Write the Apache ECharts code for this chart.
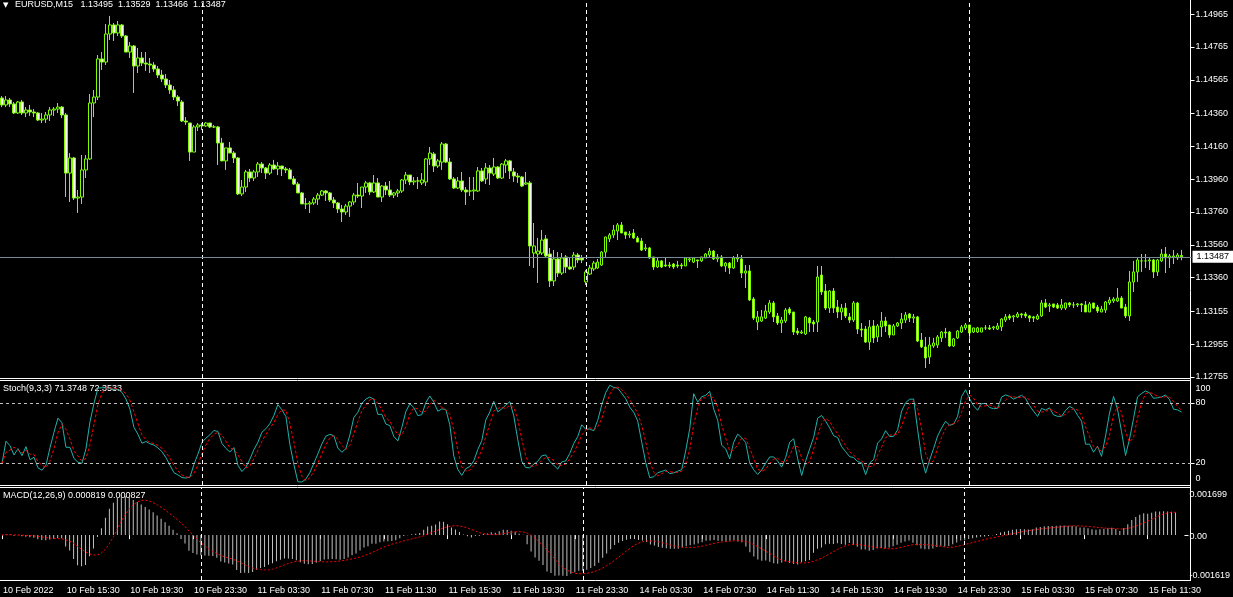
<!DOCTYPE html>
<html><head><meta charset="utf-8">
<script src="https://cdn.jsdelivr.net/npm/echarts@6/dist/echarts.min.js"></script>
<style>html,body{margin:0;padding:0;background:#000;overflow:hidden}#c{width:1233px;height:597px}</style>
</head><body><div id="c"></div>
<script>
// ---- DATA (EURUSD M15) ----
const opens = [1.14454,1.14412,1.14442,1.14418,1.14363,1.14430,1.14363,1.14381,1.14369,1.14363,
1.14320,1.14326,1.14351,1.14381,1.14387,1.14399,1.14351,1.13997,1.14089,1.13845,
1.13851,1.14016,1.14083,1.14424,1.14460,1.14692,1.14673,1.14844,1.14899,1.14850,
1.14899,1.14832,1.14734,1.14771,1.14649,1.14698,1.14667,1.14661,1.14655,1.14631,
1.14594,1.14570,1.14533,1.14503,1.14460,1.14430,1.14314,1.14302,1.14125,1.14278,
1.14290,1.14284,1.14302,1.14278,1.14278,1.14180,1.14071,1.14150,1.14119,1.14089,
1.13870,1.13912,1.14004,1.13967,1.14004,1.14052,1.14028,1.13997,1.14046,1.14022,
1.14040,1.14022,1.14016,1.13961,1.13930,1.13876,1.13809,1.13809,1.13815,1.13839,
1.13863,1.13888,1.13876,1.13833,1.13815,1.13778,1.13760,1.13796,1.13821,1.13863,
1.13857,1.13912,1.13937,1.13882,1.13937,1.13851,1.13918,1.13894,1.13863,1.13876,
1.13888,1.13955,1.13985,1.13943,1.13949,1.13937,1.13943,1.14083,1.14113,1.14040,
1.14064,1.14174,1.14064,1.13961,1.13906,1.13949,1.13894,1.13888,1.13888,1.13888,
1.14010,1.13961,1.14028,1.13991,1.14034,1.13967,1.14046,1.14071,1.14004,1.13979,
1.13973,1.13930,1.13937,1.13510,1.13504,1.13510,1.13596,1.13504,1.13340,1.13474,
1.13388,1.13486,1.13425,1.13425,1.13498,1.13480,1.13334,1.13382,1.13413,1.13419,
1.13437,1.13516,1.13596,1.13620,1.13644,1.13681,1.13638,1.13620,1.13632,1.13602,
1.13583,1.13535,1.13541,1.13486,1.13425,1.13462,1.13437,1.13437,1.13443,1.13437,
1.13437,1.13431,1.13468,1.13455,1.13468,1.13462,1.13480,1.13498,1.13522,1.13474,
1.13486,1.13431,1.13449,1.13419,1.13474,1.13474,1.13388,1.13401,1.13230,1.13090,
1.13096,1.13114,1.13151,1.13206,1.13127,1.13084,1.13096,1.13169,1.13151,1.13035,
1.13023,1.13017,1.13114,1.13090,1.13090,1.13376,1.13279,1.13175,1.13279,1.13181,
1.13151,1.13175,1.13121,1.13102,1.13206,1.13047,1.13047,1.12968,1.13066,1.12999,
1.13060,1.13096,1.13072,1.13011,1.13066,1.13084,1.13102,1.13139,1.13114,1.13121,
1.12980,1.12938,1.12877,1.12944,1.12950,1.12993,1.13029,1.13029,1.12944,1.12993,
1.13029,1.13054,1.13072,1.13029,1.13029,1.13029,1.13054,1.13054,1.13054,1.13047,
1.13060,1.13102,1.13127,1.13121,1.13121,1.13139,1.13139,1.13127,1.13121,1.13108,
1.13127,1.13206,1.13188,1.13200,1.13194,1.13175,1.13175,1.13206,1.13194,1.13194,
1.13200,1.13194,1.13151,1.13206,1.13181,1.13151,1.13163,1.13206,1.13218,1.13218,
1.13236,1.13181,1.13127,1.13334,1.13395,1.13462,1.13462,1.13462,1.13468,1.13395,
1.13462,1.13504,1.13480,1.13486,1.13480,1.13495];
const highs = [1.14466,1.14466,1.14454,1.14430,1.14436,1.14442,1.14399,1.14412,1.14387,1.14369,
1.14363,1.14369,1.14399,1.14399,1.14424,1.14405,1.14363,1.14119,1.14095,1.13894,
1.14107,1.14107,1.14479,1.14503,1.14716,1.14734,1.14905,1.14954,1.14911,1.14923,
1.14905,1.14838,1.14795,1.14777,1.14759,1.14734,1.14734,1.14698,1.14673,1.14649,
1.14625,1.14600,1.14564,1.14527,1.14472,1.14442,1.14338,1.14302,1.14290,1.14302,
1.14302,1.14308,1.14302,1.14290,1.14284,1.14211,1.14150,1.14186,1.14131,1.14095,
1.13955,1.14016,1.14022,1.14016,1.14064,1.14064,1.14034,1.14058,1.14077,1.14064,
1.14040,1.14034,1.14028,1.13979,1.13943,1.13882,1.13845,1.13827,1.13851,1.13876,
1.13894,1.13894,1.13882,1.13851,1.13821,1.13803,1.13809,1.13827,1.13876,1.13937,
1.13912,1.13949,1.13943,1.13985,1.13967,1.13924,1.13943,1.13949,1.13882,1.13900,
1.13961,1.14004,1.13985,1.13973,1.13973,1.13997,1.14089,1.14156,1.14125,1.14083,
1.14186,1.14180,1.14089,1.13973,1.13973,1.14004,1.13912,1.13973,1.13973,1.14034,
1.14028,1.14058,1.14046,1.14089,1.14040,1.14058,1.14083,1.14077,1.14028,1.13997,
1.13979,1.14004,1.13949,1.13693,1.13602,1.13650,1.13620,1.13541,1.13528,1.13516,
1.13510,1.13498,1.13480,1.13516,1.13510,1.13498,1.13407,1.13437,1.13462,1.13474,
1.13522,1.13608,1.13632,1.13681,1.13693,1.13699,1.13638,1.13644,1.13656,1.13614,
1.13602,1.13565,1.13547,1.13486,1.13480,1.13468,1.13486,1.13455,1.13449,1.13462,
1.13449,1.13480,1.13486,1.13480,1.13468,1.13486,1.13510,1.13541,1.13528,1.13504,
1.13498,1.13455,1.13455,1.13492,1.13504,1.13498,1.13437,1.13437,1.13242,1.13157,
1.13163,1.13194,1.13224,1.13218,1.13145,1.13121,1.13175,1.13181,1.13151,1.13054,
1.13041,1.13127,1.13121,1.13102,1.13431,1.13431,1.13322,1.13285,1.13297,1.13224,
1.13200,1.13206,1.13145,1.13218,1.13212,1.13084,1.13066,1.13102,1.13102,1.13078,
1.13151,1.13121,1.13072,1.13078,1.13090,1.13145,1.13151,1.13145,1.13139,1.13127,
1.13023,1.12999,1.12999,1.12993,1.13011,1.13035,1.13054,1.13035,1.12993,1.13041,
1.13072,1.13084,1.13072,1.13054,1.13060,1.13054,1.13072,1.13072,1.13066,1.13084,
1.13114,1.13139,1.13139,1.13133,1.13151,1.13145,1.13151,1.13133,1.13127,1.13139,
1.13224,1.13230,1.13206,1.13200,1.13206,1.13230,1.13206,1.13212,1.13212,1.13206,
1.13206,1.13218,1.13212,1.13206,1.13194,1.13188,1.13218,1.13242,1.13242,1.13297,
1.13248,1.13200,1.13401,1.13462,1.13480,1.13504,1.13504,1.13486,1.13474,1.13474,
1.13535,1.13547,1.13504,1.13528,1.13510,1.13529];
const lows = [1.14399,1.14399,1.14399,1.14357,1.14357,1.14351,1.14338,1.14345,1.14338,1.14314,
1.14302,1.14302,1.14314,1.14345,1.14363,1.14332,1.13851,1.13821,1.13833,1.13754,
1.13809,1.13967,1.14077,1.14338,1.14442,1.14625,1.14655,1.14807,1.14801,1.14832,
1.14820,1.14734,1.14698,1.14485,1.14606,1.14649,1.14619,1.14606,1.14613,1.14576,
1.14552,1.14515,1.14479,1.14442,1.14405,1.14308,1.14290,1.14071,1.14125,1.14253,
1.14259,1.14278,1.14271,1.14271,1.14046,1.14071,1.14016,1.14119,1.14058,1.13863,
1.13857,1.13882,1.13943,1.13949,1.13973,1.13997,1.13961,1.13985,1.14016,1.13985,
1.13979,1.13997,1.13961,1.13924,1.13876,1.13809,1.13778,1.13754,1.13803,1.13803,
1.13857,1.13827,1.13821,1.13784,1.13754,1.13699,1.13742,1.13730,1.13803,1.13845,
1.13784,1.13876,1.13863,1.13876,1.13851,1.13821,1.13863,1.13851,1.13845,1.13851,
1.13876,1.13930,1.13924,1.13924,1.13900,1.13924,1.13918,1.14046,1.14004,1.14028,
1.14016,1.14058,1.13955,1.13900,1.13900,1.13882,1.13803,1.13857,1.13833,1.13882,
1.13943,1.13930,1.13924,1.13979,1.13961,1.13961,1.13997,1.13961,1.13943,1.13937,
1.13912,1.13924,1.13431,1.13419,1.13328,1.13498,1.13486,1.13303,1.13309,1.13364,
1.13376,1.13388,1.13407,1.13407,1.13449,1.13449,1.13315,1.13376,1.13401,1.13413,
1.13431,1.13486,1.13577,1.13602,1.13589,1.13632,1.13596,1.13602,1.13596,1.13577,
1.13522,1.13522,1.13474,1.13407,1.13419,1.13419,1.13425,1.13419,1.13413,1.13419,
1.13413,1.13431,1.13455,1.13449,1.13419,1.13455,1.13480,1.13486,1.13468,1.13455,
1.13425,1.13395,1.13382,1.13413,1.13455,1.13358,1.13297,1.13218,1.13102,1.13041,
1.13090,1.13108,1.13139,1.13090,1.13072,1.13023,1.13084,1.13133,1.13011,1.13011,
1.13017,1.13011,1.13029,1.13029,1.13029,1.13255,1.13163,1.13145,1.13145,1.13114,
1.13102,1.13114,1.13084,1.13090,1.13017,1.12999,1.12962,1.12920,1.12962,1.12968,
1.12999,1.13029,1.12993,1.13011,1.13060,1.13047,1.13084,1.13090,1.13084,1.12968,
1.12932,1.12810,1.12834,1.12932,1.12932,1.12968,1.12993,1.12938,1.12938,1.12987,
1.13023,1.13041,1.12980,1.13023,1.13023,1.13029,1.13041,1.13041,1.13041,1.13041,
1.13035,1.13090,1.13102,1.13090,1.13114,1.13114,1.13114,1.13090,1.13090,1.13102,
1.13121,1.13175,1.13151,1.13175,1.13169,1.13163,1.13163,1.13181,1.13175,1.13181,
1.13151,1.13151,1.13151,1.13169,1.13145,1.13151,1.13145,1.13194,1.13206,1.13212,
1.13175,1.13114,1.13096,1.13273,1.13334,1.13395,1.13419,1.13407,1.13358,1.13370,
1.13455,1.13388,1.13419,1.13443,1.13468,1.13466];
const closes = [1.14412,1.14442,1.14418,1.14363,1.14430,1.14363,1.14381,1.14369,1.14363,1.14320,
1.14326,1.14351,1.14381,1.14387,1.14399,1.14351,1.13997,1.14089,1.13845,1.13851,
1.14016,1.14083,1.14424,1.14460,1.14692,1.14673,1.14844,1.14899,1.14850,1.14899,
1.14832,1.14734,1.14771,1.14649,1.14698,1.14667,1.14661,1.14655,1.14631,1.14594,
1.14570,1.14533,1.14503,1.14460,1.14436,1.14314,1.14308,1.14125,1.14278,1.14290,
1.14284,1.14302,1.14278,1.14278,1.14180,1.14071,1.14150,1.14119,1.14089,1.13870,
1.13912,1.14004,1.13967,1.14004,1.14052,1.14028,1.13997,1.14046,1.14022,1.14040,
1.14022,1.14016,1.13961,1.13930,1.13876,1.13809,1.13809,1.13815,1.13839,1.13863,
1.13888,1.13876,1.13833,1.13815,1.13778,1.13760,1.13796,1.13821,1.13863,1.13857,
1.13912,1.13937,1.13882,1.13937,1.13851,1.13918,1.13894,1.13863,1.13876,1.13888,
1.13955,1.13985,1.13943,1.13949,1.13949,1.13955,1.14083,1.14119,1.14040,1.14071,
1.14174,1.14064,1.13961,1.13906,1.13949,1.13894,1.13882,1.13888,1.13894,1.14010,
1.13949,1.14028,1.13997,1.14034,1.13967,1.14052,1.14071,1.14010,1.13979,1.13973,
1.13918,1.13937,1.13553,1.13553,1.13522,1.13589,1.13492,1.13340,1.13474,1.13388,
1.13480,1.13425,1.13413,1.13498,1.13468,1.13468,1.13395,1.13419,1.13449,1.13455,
1.13516,1.13608,1.13620,1.13650,1.13681,1.13632,1.13620,1.13626,1.13602,1.13577,
1.13528,1.13541,1.13480,1.13425,1.13462,1.13425,1.13431,1.13431,1.13425,1.13431,
1.13431,1.13480,1.13474,1.13480,1.13462,1.13486,1.13504,1.13522,1.13474,1.13486,
1.13431,1.13449,1.13419,1.13480,1.13480,1.13388,1.13401,1.13224,1.13114,1.13121,
1.13121,1.13157,1.13206,1.13121,1.13084,1.13102,1.13163,1.13145,1.13029,1.13023,
1.13029,1.13121,1.13084,1.13078,1.13364,1.13273,1.13175,1.13279,1.13175,1.13151,
1.13175,1.13127,1.13102,1.13206,1.13047,1.13041,1.12968,1.13060,1.12993,1.13066,
1.13096,1.13066,1.13011,1.13066,1.13084,1.13108,1.13133,1.13114,1.13121,1.12974,
1.12938,1.12871,1.12950,1.12962,1.12999,1.13029,1.13023,1.12944,1.12987,1.13035,
1.13060,1.13072,1.13023,1.13054,1.13054,1.13054,1.13054,1.13047,1.13060,1.13066,
1.13108,1.13121,1.13114,1.13127,1.13139,1.13133,1.13127,1.13114,1.13114,1.13127,
1.13206,1.13181,1.13194,1.13181,1.13175,1.13194,1.13206,1.13194,1.13194,1.13200,
1.13194,1.13151,1.13200,1.13175,1.13157,1.13169,1.13212,1.13224,1.13230,1.13236,
1.13175,1.13127,1.13334,1.13395,1.13468,1.13462,1.13462,1.13468,1.13395,1.13468,
1.13504,1.13480,1.13492,1.13492,1.13498,1.13487];

const priceTicks = [1.14965,1.14765,1.14565,1.14360,1.14160,1.13960,1.13760,1.13560,1.13360,1.13155,1.12955,1.12755];
const lastPrice = 1.13487;
const timeLabels = ['10 Feb 2022','10 Feb 15:30','10 Feb 19:30','10 Feb 23:30','11 Feb 03:30','11 Feb 07:30','11 Feb 11:30','11 Feb 15:30','11 Feb 19:30','11 Feb 23:30','14 Feb 03:30','14 Feb 07:30','14 Feb 11:30','14 Feb 15:30','14 Feb 19:30','14 Feb 23:30','15 Feb 03:30','15 Feb 07:30','15 Feb 11:30'];
const stochTicks = [100,80,20,0];
const stochLevels = [80,20];
const macdTicks = ['0.001699','0.00','-0.001619'];
const headerSymbol = 'EURUSD,M15';
const headerOHLC = ['1.13495','1.13529','1.13466','1.13487'];
const stochTitle = 'Stoch(9,3,3) 71.3748 72.3533';
const macdTitle = 'MACD(12,26,9) 0.000819 0.000827';

// ---- build ----
const N = closes.length, PAD = 2;
const MON = ['Jan','Feb','Mar','Apr','May','Jun','Jul','Aug','Sep','Oct','Nov','Dec'];
const t0 = Date.UTC(2022,1,10,11,30), wkEnd = Date.UTC(2022,1,12);
const cats = [];
for (let i = 0; i < N + PAD; i++) {
  let t = t0 + i * 900000; if (t >= wkEnd) t += 2 * 86400000;
  const d = new Date(t);
  cats.push(d.getUTCDate() + ' ' + MON[d.getUTCMonth()] + ' ' + String(d.getUTCHours()).padStart(2,'0') + ':' + String(d.getUTCMinutes()).padStart(2,'0'));
}
const labelAt = new Map([[0, timeLabels[0]]]);
timeLabels.slice(1).forEach(s => { const i = cats.indexOf(s); if (i >= 0) labelAt.set(i, s); });
const dayStarts = cats.map((c, i) => (i > 0 && c.endsWith(' 00:00')) ? i : -1).filter(i => i >= 0);

const candles = closes.map((c, i) => [opens[i], c, lows[i], highs[i]]);

// Stochastic(9,3,3) from the candles
const K = [], D = [], num = [], den = [];
for (let i = 0; i < N; i++) {
  let lo = Infinity, hi = -Infinity;
  for (let j = Math.max(0, i - 8); j <= i; j++) { lo = Math.min(lo, lows[j]); hi = Math.max(hi, highs[j]); }
  num.push(closes[i] - lo); den.push(hi - lo);
  let sn = 0, sd = 0;
  for (let j = Math.max(0, i - 2); j <= i; j++) { sn += num[j]; sd += den[j]; }
  K.push(sd > 0 ? 100 * sn / sd : 50);
  let s = 0, c = 0; for (let j = Math.max(0, i - 2); j <= i; j++) { s += K[j]; c++; }
  D.push(s / c);
}
// MACD(12,26,9) from the candles
const macd = [], sig = [];
{ let ef = closes[0], es = closes[0];
  for (let i = 0; i < N; i++) {
    ef += 2 / 13 * (closes[i] - ef); es += 2 / 27 * (closes[i] - es);
    macd.push(ef - es);
    let s = 0, c = 0; for (let j = Math.max(0, i - 8); j <= i; j++) { s += macd[j]; c++; }
    sig.push(s / c);
  }
}

const FONT = 'Liberation Sans';
const W = 4 * (N + PAD);
const sepLine = { type: [4, 3], color: '#ffffff', width: 1 };
const sepData = dayStarts.map(i => ({ xAxis: cats[i], lineStyle: sepLine, label: { show: false } }));

const stochLabelVals = stochTicks.map(v => v === 100 ? 94 : v === 0 ? 4 : v);
const stochLabelText = new Map(stochLabelVals.map((v, k) => [v, String(stochTicks[k])]));
const mMax = parseFloat(macdTicks[0]), mMin = parseFloat(macdTicks[2]);
const mSpan = mMax - mMin;
const macdLabelVals = [mMax - 7 / 92 * mSpan, 0 - 1 / 92 * mSpan, mMin + 4 / 92 * mSpan];
const macdLabelText = new Map(macdLabelVals.map((v, k) => [v, macdTicks[k]]));

const xBase = (gi, show) => ({
  type: 'category', gridIndex: gi, data: cats, boundaryGap: true,
  axisLine: { show: false }, splitLine: { show: false },
  axisTick: show ? { show: true, interval: i => labelAt.has(i), alignWithLabel: true, length: 4, lineStyle: { color: '#fff' } } : { show: false },
  axisLabel: show ? { show: true, interval: i => labelAt.has(i), formatter: (v, i) => labelAt.get(i) || '', align: 'left', color: '#fff', fontSize: 9, fontFamily: FONT, margin: 6, padding: [0, 0, 0, 1] } : { show: false }
});
const yLabel = { color: '#fff', fontSize: 9, fontFamily: FONT, margin: 5, padding: [2, 0, 0, 0] };

const option = {
  backgroundColor: '#000',
  animation: false,
  textStyle: { fontFamily: FONT },
  grid: [
    { left: -0.5, top: 0, width: W, height: 378 },
    { left: -0.5, top: 381, width: W, height: 104 },
    { left: -0.5, top: 488, width: W, height: 92 }
  ],
  xAxis: [xBase(0, false), xBase(1, false), xBase(2, true)],
  yAxis: [
    { type: 'value', gridIndex: 0, position: 'right', offset: -1, min: 1.12749, max: 1.15051,
      axisLine: { show: false }, splitLine: { show: false },
      axisTick: { show: true, customValues: priceTicks, length: 4, lineStyle: { color: '#fff' } },
      axisLabel: Object.assign({ customValues: priceTicks, formatter: v => v.toFixed(5) }, yLabel, { padding: 0 }) },
    { type: 'value', gridIndex: 1, position: 'right', offset: -1, min: -2, max: 102,
      axisLine: { show: false }, splitLine: { show: false },
      axisTick: { show: true, customValues: stochLevels, length: 4, lineStyle: { color: '#fff' } },
      axisLabel: Object.assign({ customValues: stochLabelVals, formatter: v => stochLabelText.get(v) || '' }, yLabel) },
    { type: 'value', gridIndex: 2, position: 'right', offset: -1, min: mMin, max: mMax,
      axisLine: { show: false }, splitLine: { show: false },
      axisTick: { show: true, customValues: [0], length: 4, lineStyle: { color: '#fff' } },
      axisLabel: Object.assign({ customValues: macdLabelVals, formatter: v => macdLabelText.get(v) || '' }, yLabel) }
  ],
  series: [
    { type: 'candlestick', xAxisIndex: 0, yAxisIndex: 0, data: candles, barWidth: 3, silent: true,
      itemStyle: { color: '#000000', color0: '#ffffff', borderColor: '#7CFC00', borderColor0: '#7CFC00', borderWidth: 1 },
      markLine: { silent: true, symbol: ['none', 'none'], animation: false, precision: 5,
        data: [
          ...sepData,
          { yAxis: lastPrice, lineStyle: { color: '#778899', type: 'solid', width: 1 },
            label: { show: true, position: 'end', distance: 1, formatter: lastPrice.toFixed(5), backgroundColor: '#ffffff', color: '#000', fontSize: 9, fontFamily: FONT, padding: [2, 6, 1, 4] } }
        ] } },
    { type: 'line', xAxisIndex: 1, yAxisIndex: 1, data: K, showSymbol: false, silent: true,
      lineStyle: { color: '#20B2AA', width: 1 },
      markLine: { silent: true, symbol: ['none', 'none'], animation: false, precision: 5,
        data: [
          ...sepData,
          ...stochLevels.map(v => ({ yAxis: v, lineStyle: { type: [3, 3], color: '#c0c0c0', width: 1 }, label: { show: false } }))
        ] } },
    { type: 'line', xAxisIndex: 1, yAxisIndex: 1, data: D, showSymbol: false, silent: true,
      lineStyle: { color: '#ff0000', width: 1, type: [3, 2] } },
    { type: 'bar', xAxisIndex: 2, yAxisIndex: 2, data: macd, barWidth: 1, silent: true,
      itemStyle: { color: '#c0c0c0' },
      markLine: { silent: true, symbol: ['none', 'none'], animation: false, data: sepData } },
    { type: 'line', xAxisIndex: 2, yAxisIndex: 2, data: sig, showSymbol: false, silent: true,
      lineStyle: { color: '#ff0000', width: 1, type: [2, 2] } }
  ],
  graphic: [
    { type: 'line', silent: true, shape: { x1: 1190.5, y1: 0, x2: 1190.5, y2: 581 }, style: { stroke: '#fff', lineWidth: 1 } },
    { type: 'line', silent: true, shape: { x1: 0, y1: 378.5, x2: 1190.5, y2: 378.5 }, style: { stroke: '#fff', lineWidth: 1 } },
    { type: 'line', silent: true, shape: { x1: 0, y1: 380.5, x2: 1190.5, y2: 380.5 }, style: { stroke: '#fff', lineWidth: 1 } },
    { type: 'line', silent: true, shape: { x1: 0, y1: 485.5, x2: 1190.5, y2: 485.5 }, style: { stroke: '#fff', lineWidth: 1 } },
    { type: 'line', silent: true, shape: { x1: 0, y1: 487.5, x2: 1190.5, y2: 487.5 }, style: { stroke: '#fff', lineWidth: 1 } },
    { type: 'line', silent: true, shape: { x1: 0, y1: 580.5, x2: 1190.5, y2: 580.5 }, style: { stroke: '#fff', lineWidth: 1 } },
    { type: 'text', silent: true, x: 3, y: 5, style: { text: '▼', fill: '#fff', font: '7px "DejaVu Sans"', verticalAlign: 'middle' } },
    { type: 'text', silent: true, x: 15, y: 5, style: { text: headerSymbol + '   ' + headerOHLC.join('  '), fill: '#fff', font: '9px "' + FONT + '"', verticalAlign: 'middle' } },
    { type: 'text', silent: true, x: 3, y: 389, style: { text: stochTitle, fill: '#fff', font: '9px "' + FONT + '"', verticalAlign: 'middle' } },
    { type: 'text', silent: true, x: 3, y: 496, style: { text: macdTitle, fill: '#fff', font: '9px "' + FONT + '"', verticalAlign: 'middle' } }
  ]
};
const chart = echarts.init(document.getElementById('c'), null, { renderer: 'canvas' });
chart.setOption(option);
</script></body></html>
